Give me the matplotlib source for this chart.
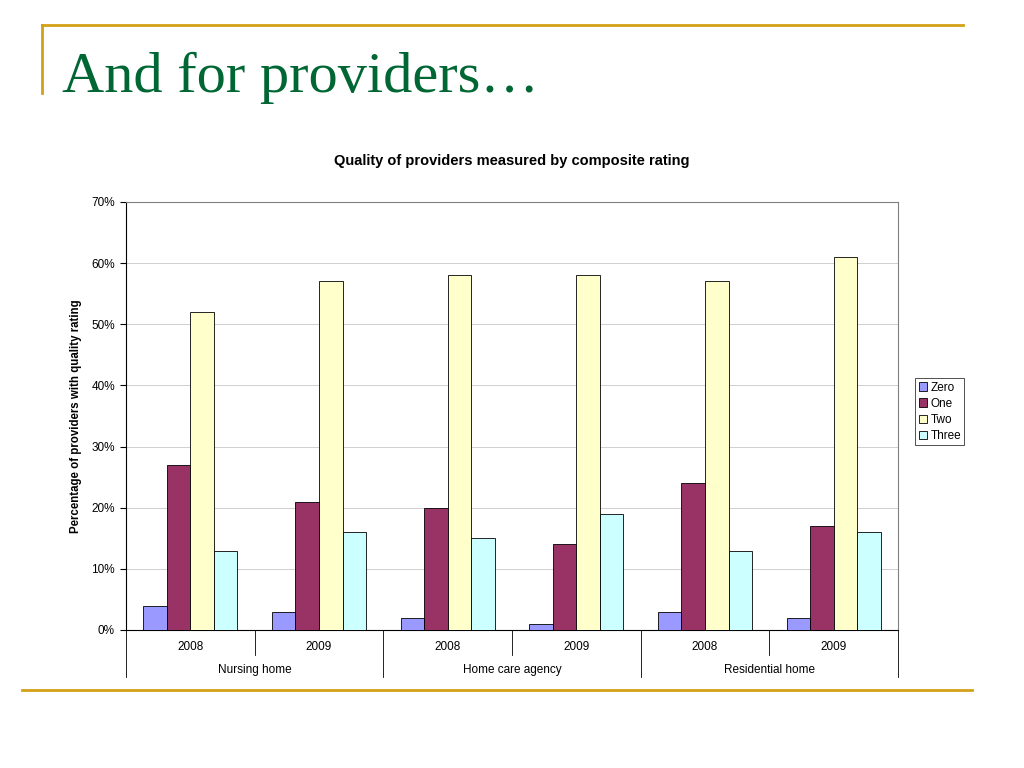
import numpy as np
import matplotlib.pyplot as plt
from matplotlib.lines import Line2D
from matplotlib.ticker import FuncFormatter

years = ['2008', '2009', '2008', '2009', '2008', '2009']
groups = ['Nursing home', 'Home care agency', 'Residential home']
series = ['Zero', 'One', 'Two', 'Three']
zero = [4, 3, 2, 1, 3, 2]
one = [27, 21, 20, 14, 24, 17]
two = [52, 57, 58, 58, 57, 61]
three = [13, 16, 15, 19, 13, 16]
colors = ['#9999FF', '#993366', '#FFFFCC', '#CCFFFF']

plt.rcParams['font.family'] = ['Liberation Sans', 'DejaVu Sans']

fig = plt.figure(figsize=(10.24, 7.68), dpi=100)

# slide decoration
gold = '#D4A017'
fig.add_artist(Line2D([42/1024, 963/1024], [1-25/768, 1-25/768], color=gold, lw=2))
fig.add_artist(Line2D([42/1024, 42/1024], [1-25/768, 1-93/768], color=gold, lw=2))
fig.add_artist(Line2D([22/1024, 972/1024], [1-690/768, 1-690/768], color=gold, lw=2))
fig.text(62/1024, 1-92/768, 'And for providers\u2026', family=['Liberation Serif', 'DejaVu Serif'],
         fontsize=42, color='#006633', va='baseline', ha='left')

ax = fig.add_axes([126/1024, 1-630/768, 772/1024, 428/768])

x = np.arange(len(years)) + 0.5
w = 0.183
for k, (name, vals) in enumerate(zip(series, [zero, one, two, three])):
    ax.bar(x + (k - 1.5) * w, vals, w, color=colors[k], edgecolor='black', linewidth=0.6,
           label=name, zorder=3)

ax.set_xlim(0, 6)
ax.set_ylim(0, 70)
ax.set_yticks(range(0, 71, 10))
ax.yaxis.set_major_formatter(FuncFormatter(lambda v, p: '%d%%' % v))
ax.tick_params(axis='y', labelsize=8.5, length=4, width=0.8, pad=4)
ax.set_xticks([])
ax.grid(axis='y', color='#C8C8C8', lw=0.6, zorder=0)
for s in ['top', 'right']:
    ax.spines[s].set_color('#808080')
    ax.spines[s].set_linewidth(0.8)
for s in ['left', 'bottom']:
    ax.spines[s].set_color('black')
    ax.spines[s].set_linewidth(0.8)

trans = ax.get_xaxis_transform()
for i, y in enumerate(years):
    ax.text(i + 0.5, -0.04, y, transform=trans, ha='center', va='center', fontsize=8.5)
for j, g in enumerate(groups):
    ax.text(2 * j + 1, -0.093, g, transform=trans, ha='center', va='center', fontsize=8.5)
for b in range(7):
    ylow = -0.11 if b % 2 == 0 else -0.058
    ax.plot([b, b], [0, ylow], transform=trans, color='black', lw=0.6, clip_on=False)

ax.set_ylabel('Percentage of providers with quality rating', fontsize=8.3, fontweight='bold', labelpad=7)
fig.text(512/1024, 1-161/768, 'Quality of providers measured by composite rating',
         ha='center', va='center', fontsize=10.5, fontweight='bold')

leg = ax.legend(loc='center left', bbox_to_anchor=(1.022, 0.51), fontsize=8.5, frameon=True,
                fancybox=False, edgecolor='black', handlelength=0.7, handleheight=0.7,
                handletextpad=0.3, labelspacing=0.35, borderpad=0.3, borderaxespad=0)
leg.get_frame().set_linewidth(0.6)

fig.savefig('out.png', dpi=100)
